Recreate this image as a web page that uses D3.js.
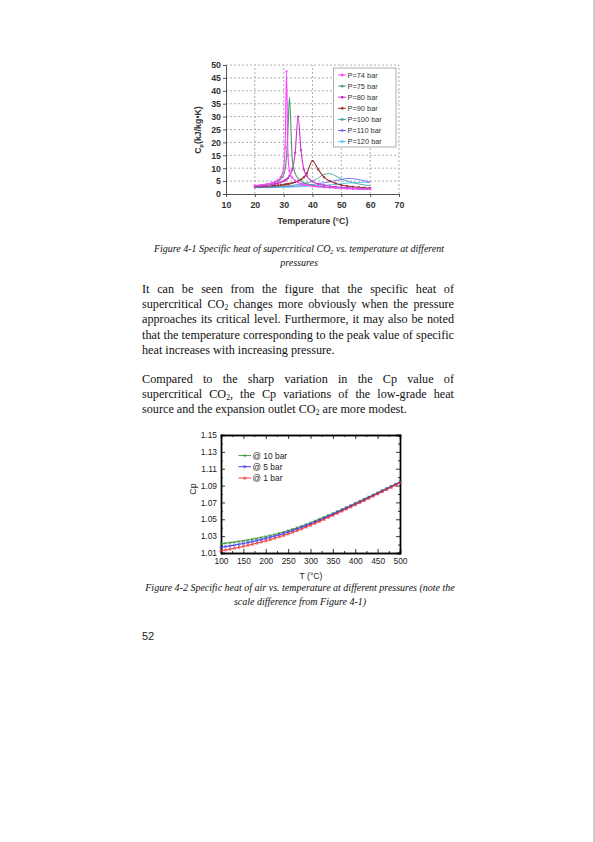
<!DOCTYPE html>
<html>
<head>
<meta charset="utf-8">
<script src="https://cdn.jsdelivr.net/npm/d3@7"></script>
<style>
  html, body { margin: 0; padding: 0; background: #fff; }
  svg { display: block; }
</style>
</head>
<body>
<div id="page"></div>
<script>
// ---- figure 4-1 : Cp of supercritical CO2 ----
const temps1 = [20,22,24,26,27,28,29,30,30.5,31,31.5,32,33,34,35,36,37,38,40,42,44,46,48,50,52,54,56,58,60]
const pressures1 = ["P=74 bar","P=75 bar","P=80 bar","P=90 bar","P=100 bar","P=110 bar","P=120 bar"]
const colors1 = ["#ff44ff","#4a9a6a","#cc33cc","#993333","#3aa5a5","#6a6aff","#55c8f0"]
const cp74  = [3.3,3.5,3.8,4.3,4.7,5.3,6.6,10,18,47.5,15,9,6.3,5.2,4.5,4.0,3.7,3.4,3.0,2.8,2.6,2.45,2.3,2.2,2.1,2.0,1.95,1.9,1.85]
const cp75  = [3.2,3.4,3.7,4.1,4.4,4.9,5.8,7.5,9.5,14.5,25,37.5,13,8,6,5,4.4,4.0,3.4,3.0,2.8,2.6,2.45,2.3,2.2,2.1,2.0,1.95,1.9]
const cp80  = [3.0,3.2,3.4,3.7,3.9,4.2,4.5,5.0,5.3,5.7,6.2,7.0,9.5,16,30,17,9.5,7,4.8,3.9,3.4,3.0,2.8,2.6,2.45,2.3,2.2,2.1,2.0]
const cp90  = [2.8,2.9,3.0,3.2,3.3,3.4,3.5,3.6,3.7,3.8,3.9,4.0,4.3,4.6,5.0,5.6,6.5,8.0,12.8,9.5,6.5,5.0,4.1,3.5,3.1,2.8,2.6,2.45,2.3]
const cp100 = [2.6,2.65,2.7,2.8,2.85,2.9,2.95,3.0,3.05,3.1,3.15,3.2,3.35,3.5,3.65,3.85,4.05,4.3,5.0,6.2,7.6,7.9,7.0,5.9,5.0,4.4,3.9,3.5,3.2]
const cp110 = [2.5,2.55,2.6,2.65,2.7,2.72,2.75,2.8,2.82,2.85,2.87,2.9,2.97,3.05,3.13,3.22,3.32,3.43,3.7,4.0,4.35,4.75,5.2,5.65,6.0,5.95,5.6,5.1,4.6]
const cp120 = [2.4,2.43,2.47,2.5,2.53,2.55,2.57,2.6,2.61,2.63,2.64,2.66,2.7,2.75,2.8,2.85,2.9,2.96,3.1,3.25,3.42,3.6,3.8,4.0,4.2,4.35,4.45,4.5,4.45]
const series1 = [cp74, cp75, cp80, cp90, cp100, cp110, cp120]
const xTicks1 = [10,20,30,40,50,60,70]
const yTicks1 = [0,5,10,15,20,25,30,35,40,45,50]

// ---- figure 4-2 : Cp of air ----
const temps2 = [100,110,120,130,140,150,160,170,180,190,200,210,220,230,240,250,260,270,280,290,300,
                310,320,330,340,350,360,370,380,390,400,410,420,430,440,450,460,470,480,490,500]
const cpAir10 = [1.0210,1.0216,1.0222,1.0229,1.0237,1.0245,1.0254,1.0263,1.0273,1.0284,1.0295,1.0307,1.0320,1.0334,1.0349,1.0365,1.0382,1.0400,1.0419,1.0439,1.0460,
                 1.0481,1.0503,1.0525,1.0547,1.0570,1.0593,1.0617,1.0641,1.0665,1.0690,1.0715,1.0740,1.0765,1.0790,1.0815,1.0841,1.0867,1.0893,1.0919,1.0945]
const cpAir5  = [1.0168,1.0176,1.0184,1.0193,1.0203,1.0213,1.0224,1.0235,1.0247,1.0259,1.0272,1.0286,1.0300,1.0315,1.0331,1.0348,1.0366,1.0385,1.0404,1.0424,1.0445,
                 1.0467,1.0489,1.0512,1.0535,1.0559,1.0583,1.0607,1.0632,1.0657,1.0682,1.0707,1.0733,1.0758,1.0784,1.0809,1.0835,1.0861,1.0887,1.0913,1.0940]
const cpAir1  = [1.0128,1.0137,1.0147,1.0157,1.0168,1.0180,1.0192,1.0204,1.0217,1.0231,1.0245,1.0260,1.0276,1.0292,1.0309,1.0327,1.0346,1.0366,1.0386,1.0408,1.0430,
                 1.0453,1.0476,1.0499,1.0523,1.0547,1.0572,1.0597,1.0622,1.0647,1.0672,1.0697,1.0723,1.0749,1.0775,1.0801,1.0827,1.0853,1.0879,1.0905,1.0932]
const airLabels = ["@ 10 bar","@ 5 bar","@ 1 bar"]
const airColors = ["#2e8b2e","#2a2aee","#ee2a2a"]
const airLegendY = [1.1256,1.1124,1.099]
const xTicks2 = [100,150,200,250,300,350,400,450,500]
const yTicks2 = [1.01,1.03,1.05,1.07,1.09,1.11,1.13,1.15]

// ---- page text ----
const caption1 = ["Figure 4-1 Specific heat of supercritical CO_2 vs. temperature at different", "pressures"]
const para1 = [
  "It can be seen from the figure that the specific heat of",
  "supercritical CO_2 changes more obviously when the pressure",
  "approaches its critical level. Furthermore, it may also be noted",
  "that the temperature corresponding to the peak value of specific",
  "heat increases with increasing pressure."]
const para2 = [
  "Compared to the sharp variation in the Cp value of",
  "supercritical CO_2, the Cp variations of the low-grade heat",
  "source and the expansion outlet CO_2 are more modest."]
const caption2 = ["Figure 4-2 Specific heat of air vs. temperature at different pressures (note the", "scale difference from Figure 4-1)"]

const svg = d3.select("#page").append("svg")
    .attr("width", 595)
    .attr("height", 842)

svg.append("rect").attr("width", 595).attr("height", 842).attr("fill", "#fff")
svg.append("line")
    .attr("x1", 594).attr("x2", 594).attr("y1", 0).attr("y2", 842)
    .attr("stroke", "#bdbdbd").attr("stroke-width", 1.5)

// writes "CO_2" style text with a small subscript
function rich(sel, str) {
    const parts = str.split(/(_[0-9a-z])/).filter(p => p !== "")
    let shift = 0
    parts.forEach(p => {
        if (p[0] === "_") {
            sel.append("tspan").attr("font-size", "62%").attr("dy", 2 - shift).text(p[1])
            shift = 2
        } else {
            sel.append("tspan").attr("dy", -shift).text(p)
            shift = 0
        }
    })
    return sel
}

const serif = "'Liberation Serif', 'DejaVu Serif', serif"
const sans = "'Liberation Sans', Arial, sans-serif"

function justified(lines, x0, width, y0, step, size) {
    const g = svg.append("g").attr("font-family", serif).attr("font-size", size).attr("fill", "#111")
    lines.forEach((line, i) => {
        const y = y0 + i * step
        const words = line.split(" ")
        if (i === lines.length - 1) {
            rich(g.append("text").attr("x", x0).attr("y", y), line)
            return
        }
        const nodes = words.map(w => rich(g.append("text").attr("y", y), w))
        const widths = nodes.map(n => n.node().getComputedTextLength())
        const gap = (width - d3.sum(widths)) / (words.length - 1)
        let x = x0
        nodes.forEach((n, k) => { n.attr("x", x); x += widths[k] + gap })
    })
}

function centered(lines, cx, y0, step, size) {
    const g = svg.append("g").attr("font-family", serif).attr("font-size", size)
        .attr("font-style", "italic").attr("fill", "#111").attr("text-anchor", "middle")
    lines.forEach((line, i) => rich(g.append("text").attr("x", cx).attr("y", y0 + i * step), line))
}

centered(caption1, 299, 251.5, 14, 10)
justified(para1, 142, 312, 293, 15.2, 12.2)
justified(para2, 142, 312, 382.5, 15.2, 12.2)
centered(caption2, 300, 590.5, 14.5, 10)
svg.append("text").attr("x", 142).attr("y", 640).attr("font-family", sans)
    .attr("font-size", 11).attr("fill", "#222").text("52")

// ================= chart 1 =================
const x1 = d3.scaleLinear().domain([10, 70]).range([226, 399])
const y1 = d3.scaleLinear().domain([0, 50]).range([194, 65])
const c1 = svg.append("g")

c1.append("g").selectAll("line.h").data(yTicks1.slice(1)).join("line")
    .attr("x1", x1(10)).attr("x2", x1(70)).attr("y1", d => y1(d)).attr("y2", d => y1(d))
    .attr("stroke", "#9a9a9a").attr("stroke-width", 0.8).attr("stroke-dasharray", "2,2")
c1.append("g").selectAll("line.v").data(xTicks1.slice(1)).join("line")
    .attr("x1", d => x1(d)).attr("x2", d => x1(d)).attr("y1", y1(0)).attr("y2", y1(50))
    .attr("stroke", "#9a9a9a").attr("stroke-width", 0.8).attr("stroke-dasharray", "2,2")

const ax1 = c1.append("g").attr("transform", `translate(0,${y1(0)})`)
    .call(d3.axisBottom(x1).tickValues(xTicks1).tickSize(3).tickPadding(5))
const ay1 = c1.append("g").attr("transform", `translate(${x1(10)},0)`)
    .call(d3.axisLeft(y1).tickValues(yTicks1).tickSize(3).tickPadding(2))
;[ax1, ay1].forEach(a => {
    a.select(".domain").attr("stroke", "#555")
    a.selectAll(".tick line").attr("stroke", "#555")
    a.selectAll("text").attr("font-family", sans).attr("font-size", 8.8)
        .attr("font-weight", "bold").attr("fill", "#333")
})

const line1 = d3.line().x((d, i) => x1(temps1[i])).y(d => y1(d)).curve(d3.curveMonotoneX)
series1.slice().reverse().forEach((s, r) => {
    const k = series1.length - 1 - r
    c1.append("path").datum(s).attr("d", line1).attr("fill", "none")
        .attr("stroke", colors1[k]).attr("stroke-width", k < 4 ? 1.1 : 0.9)
    if (k === 0 || k === 2 || k === 3) {
        c1.append("g").selectAll("rect").data(s).join("rect")
            .attr("x", (d, i) => x1(temps1[i]) - 1).attr("y", d => y1(d) - 1)
            .attr("width", 2).attr("height", 2).attr("fill", colors1[k])
    }
})

c1.append("text").attr("transform", `translate(201,130) rotate(-90)`)
    .attr("text-anchor", "middle").attr("font-family", sans).attr("font-size", 8.8)
    .attr("font-weight", "bold").attr("fill", "#333")
    .call(t => rich(t, "C_p(kJ/kg•K)"))
c1.append("text").attr("x", 313).attr("y", 224)
    .attr("text-anchor", "middle").attr("font-family", sans).attr("font-size", 8.8)
    .attr("font-weight", "bold").attr("fill", "#333").text("Temperature (°C)")

const leg1 = c1.append("g")
leg1.append("rect").attr("x", 333.5).attr("y", 68).attr("width", 62.5).attr("height", 79)
    .attr("fill", "#fff").attr("stroke", "#9a9a9a").attr("stroke-width", 0.8)
pressures1.forEach((p, i) => {
    const y = 75 + i * 11.1
    leg1.append("line").attr("x1", 338).attr("x2", 346).attr("y1", y).attr("y2", y)
        .attr("stroke", colors1[i]).attr("stroke-width", 1)
    leg1.append("rect").attr("x", 341).attr("y", y - 1.2).attr("width", 2.4).attr("height", 2.4)
        .attr("fill", colors1[i])
    leg1.append("text").attr("x", 347.5).attr("y", y + 2.6).attr("font-family", sans)
        .attr("font-size", 7.4).attr("fill", "#333").text(p)
})

// ================= chart 2 =================
const x2 = d3.scaleLinear().domain([100, 500]).range([221, 400])
const y2 = d3.scaleLinear().domain([1.01, 1.15]).range([553, 435])
const c2 = svg.append("g")

const minorX = [125,175,225,275,325,375,425,475]
const minorY = [1.02,1.04,1.06,1.08,1.10,1.12,1.14]
c2.append("g").attr("transform", `translate(0,${y2(1.01)})`)
    .call(d3.axisBottom(x2).tickValues(xTicks2).tickSize(-4).tickPadding(5).tickFormat(d3.format("d")))
    .attr("class", "ax2")
c2.append("g").attr("transform", `translate(${x2(100)},0)`)
    .call(d3.axisLeft(y2).tickValues(yTicks2).tickSize(-4).tickPadding(4).tickFormat(d3.format(".2f")))
    .attr("class", "ax2")
c2.append("g").attr("transform", `translate(0,${y2(1.15)})`)
    .call(d3.axisTop(x2).tickValues(xTicks2).tickSize(-4).tickFormat(""))
    .attr("class", "ax2")
c2.append("g").attr("transform", `translate(${x2(500)},0)`)
    .call(d3.axisRight(y2).tickValues(yTicks2).tickSize(-4).tickFormat(""))
    .attr("class", "ax2")
c2.append("g").attr("transform", `translate(0,${y2(1.01)})`)
    .call(d3.axisBottom(x2).tickValues(minorX).tickSize(-2).tickFormat("")).attr("class", "ax2")
c2.append("g").attr("transform", `translate(0,${y2(1.15)})`)
    .call(d3.axisTop(x2).tickValues(minorX).tickSize(-2).tickFormat("")).attr("class", "ax2")
c2.append("g").attr("transform", `translate(${x2(100)},0)`)
    .call(d3.axisLeft(y2).tickValues(minorY).tickSize(-2).tickFormat("")).attr("class", "ax2")
c2.append("g").attr("transform", `translate(${x2(500)},0)`)
    .call(d3.axisRight(y2).tickValues(minorY).tickSize(-2).tickFormat("")).attr("class", "ax2")
c2.selectAll(".ax2 .domain").attr("stroke", "#000").attr("stroke-width", 1.4)
c2.selectAll(".ax2 .tick line").attr("stroke", "#000").attr("stroke-width", 0.8)
c2.selectAll(".ax2 text").attr("font-family", sans).attr("font-size", 8.4).attr("fill", "#222")

const line2 = d3.line().x((d, i) => x2(temps2[i])).y(d => y2(d))
const airSeries = [cpAir10, cpAir5, cpAir1]
airSeries.forEach((s, k) => {
    c2.append("path").datum(s).attr("d", line2).attr("fill", "none")
        .attr("stroke", airColors[k]).attr("stroke-width", 0.9)
    const pts = c2.append("g")
    s.forEach((d, i) => mark(pts, k, x2(temps2[i]), y2(d)))
})

function mark(g, k, x, y) {
    if (k === 0) {
        g.append("path").attr("d", `M${x-1.3},${y-1.3}L${x+1.3},${y+1.3}M${x-1.3},${y+1.3}L${x+1.3},${y-1.3}`)
            .attr("stroke", airColors[0]).attr("stroke-width", 0.7)
    } else if (k === 1) {
        g.append("circle").attr("cx", x).attr("cy", y).attr("r", 1.2)
            .attr("fill", "none").attr("stroke", airColors[1]).attr("stroke-width", 0.6)
    } else {
        g.append("path").attr("d", `M${x},${y-1.4}L${x+1.3},${y+1}L${x-1.3},${y+1}Z`)
            .attr("fill", "none").attr("stroke", airColors[2]).attr("stroke-width", 0.6)
    }
}

airLabels.forEach((lab, k) => {
    const y = y2(airLegendY[k])
    c2.append("line").attr("x1", 238.5).attr("x2", 251).attr("y1", y).attr("y2", y)
        .attr("stroke", airColors[k]).attr("stroke-width", 0.9)
    mark(c2, k, 244.7, y)
    c2.append("text").attr("x", 252.5).attr("y", y + 3).attr("font-family", sans)
        .attr("font-size", 8.4).attr("fill", "#222").text(lab)
})

c2.append("text").attr("transform", `translate(196,489) rotate(-90)`)
    .attr("text-anchor", "middle").attr("font-family", sans).attr("font-size", 9)
    .attr("fill", "#222").text("Cp")
c2.append("text").attr("x", 311).attr("y", 578.5).attr("text-anchor", "middle")
    .attr("font-family", sans).attr("font-size", 8.6).attr("fill", "#222").text("T (°C)")
</script>
</body>
</html>
